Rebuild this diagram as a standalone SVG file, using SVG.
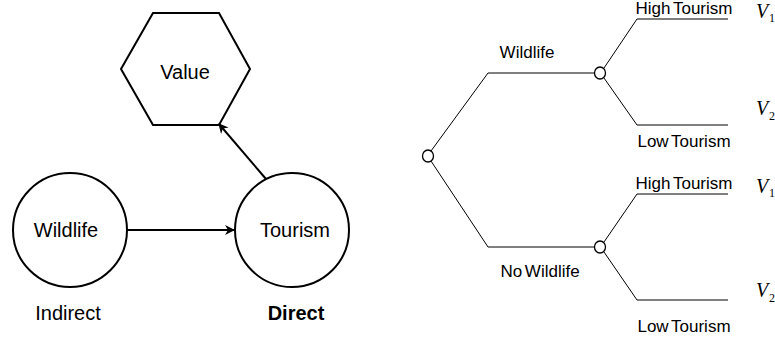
<svg xmlns="http://www.w3.org/2000/svg" width="775" height="338" viewBox="0 0 775 338">
<defs>
<style>
.shape{fill:#fff;stroke:#000;stroke-width:2}
.conn{fill:none;stroke:#000;stroke-width:2}
.branch{fill:none;stroke:#000;stroke-width:1}
.chance{fill:#fff;stroke:#000;stroke-width:1.3}
.big{font-family:"Liberation Sans",Arial,sans-serif;font-size:20px;fill:#000;text-anchor:middle}
.lbl{font-family:"Liberation Sans",Arial,sans-serif;font-size:17px;fill:#000;text-anchor:middle;word-spacing:-2px}
.v{font-family:"Liberation Serif","Times New Roman",serif;font-style:italic;font-size:20px;fill:#000}
.sub{font-family:"Liberation Serif","Times New Roman",serif;font-size:12px;fill:#000}
</style>
<marker id="arr" viewBox="0 0 10 10" refX="9" refY="5" markerWidth="10" markerHeight="10" markerUnits="userSpaceOnUse" orient="auto">
<path d="M0,0 L10,5 L0,10 L3,5 z" fill="#000"/>
</marker>
</defs>
<rect width="775" height="338" fill="#fff"/>

<g id="value">
<polygon class="shape" points="153,13 219,13 250,69 219,125 153,125 121,69"/>
<text class="big" x="185" y="79">Value</text>
</g>
<g id="wildlife">
<circle class="shape" cx="70" cy="230" r="57"/>
<text class="big" x="66" y="237">Wildlife</text>
</g>
<g id="tourism">
<circle class="shape" cx="292" cy="230" r="57"/>
<text class="big" x="295" y="237">Tourism</text>
</g>
<g id="labels">
<text class="big" x="68" y="320">Indirect</text>
<text class="big" x="296" y="320" font-weight="bold">Direct</text>
</g>
<g id="connectors">
<line class="conn" x1="127" y1="230" x2="234" y2="230" marker-end="url(#arr)"/>
<line class="conn" x1="266" y1="179" x2="219" y2="124" marker-end="url(#arr)"/>
</g>

<g id="tree-branches">
<polyline class="branch" points="431,151 488,73 595,73"/>
<polyline class="branch" points="431,161 488,247 595,247"/>
<polyline class="branch" points="604,68 637,19 728,19"/>
<polyline class="branch" points="604,78 637,125 728,125"/>
<polyline class="branch" points="604,242 637,194 728,194"/>
<polyline class="branch" points="604,252 637,300 728,300"/>
</g>
<g id="root-node"><ellipse class="chance" cx="428" cy="156" rx="5.5" ry="6"/></g>
<g id="wildlife-node"><ellipse class="chance" cx="600" cy="73" rx="5.5" ry="6"/></g>
<g id="nowildlife-node"><ellipse class="chance" cx="600" cy="247" rx="5.5" ry="6"/></g>
<g id="tree-labels">
<text class="lbl" x="527" y="58">Wildlife</text>
<text class="lbl" x="540" y="277">No Wildlife</text>
<text class="lbl" x="684" y="14">High Tourism</text>
<text class="lbl" x="684" y="147">Low Tourism</text>
<text class="lbl" x="684" y="189">High Tourism</text>
<text class="lbl" x="684" y="332">Low Tourism</text>
</g>
<g id="values">
<text class="v" x="756" y="18">V</text><text class="sub" x="769" y="22">1</text>
<text class="v" x="756" y="115">V</text><text class="sub" x="769" y="120">2</text>
<text class="v" x="756" y="193">V</text><text class="sub" x="769" y="197">1</text>
<text class="v" x="756" y="297">V</text><text class="sub" x="769" y="302">2</text>
</g>
</svg>
